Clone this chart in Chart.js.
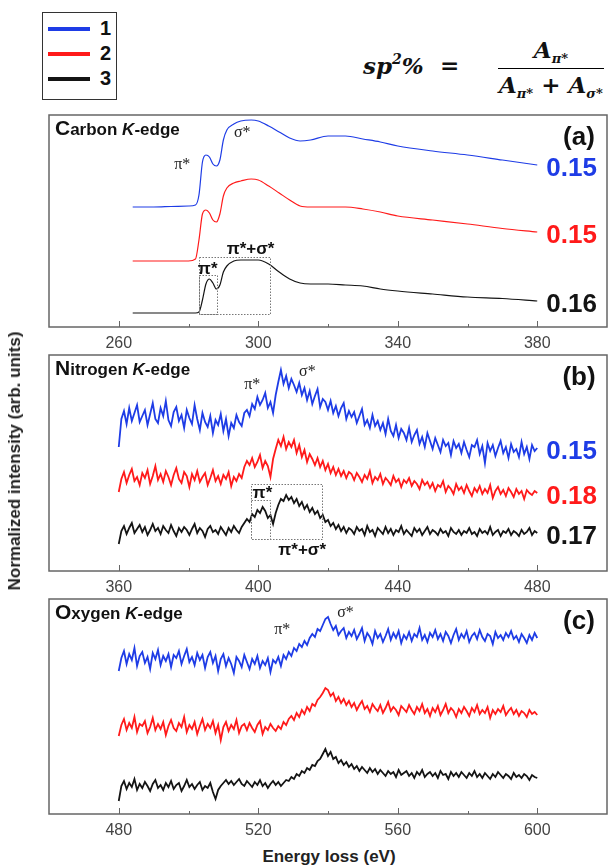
<!DOCTYPE html>
<html>
<head>
<meta charset="utf-8">
<script src="https://cdn.jsdelivr.net/npm/chart.js@4.4.0/dist/chart.umd.min.js"></script>
<style>
  body { margin: 0; background: #fff; width: 609px; height: 867px; position: relative; overflow: hidden;
         font-family: "Liberation Sans", Arial, sans-serif; color: #111; }
  canvas { position: absolute; left: 0; }
  #legend { position: absolute; left: 42px; top: 12px; width: 73px; height: 86px; border: 1.5px solid #333; }
  #legend .row { position: absolute; left: 0; height: 20px; width: 73px; }
  #legend .swatch { position: absolute; left: 5px; top: 8px; width: 42px; height: 4px; }
  #legend .name { position: absolute; left: 57px; top: -2px; font: bold 20px "Liberation Sans", Arial, sans-serif; }
  .math { position: absolute; font: italic bold 23px "DejaVu Serif", "Liberation Serif", serif; white-space: nowrap; }
  .math sup { font-size: 14px; vertical-align: 10px; }
  .math sub { font-size: 13px; vertical-align: -5px; }
  #lhs { left: 363px; top: 51px; }
  #eq { left: 440px; top: 51px; font-style: normal; }
  #frac { left: 498px; top: 36px; display: inline-flex; flex-direction: column; align-items: center; }
  #frac .num { padding-bottom: 2px; }
  #frac .den { border-top: 1.5px solid #000; padding: 2px 1px 0; }
  #ylab { position: absolute; left: 15px; top: 461px; transform: translate(-50%, -50%) rotate(-90deg);
          white-space: nowrap; font: bold 17px "Liberation Sans", Arial, sans-serif; color: #222; }
  #xlab { position: absolute; left: 329px; top: 857px; transform: translate(-50%, -50%);
          white-space: nowrap; font: bold 17px "Liberation Sans", Arial, sans-serif; color: #222; }
</style>
</head>
<body>
<div id="legend"></div>
<span id="lhs" class="math">sp<sup>2</sup>%</span>
<span id="eq" class="math">=</span>
<span id="frac" class="math">
  <span class="num">A<sub>π*</sub></span>
  <span class="den">A<sub>π*</sub> + A<sub>σ*</sub></span>
</span>
<canvas id="carbon" width="609" height="247" style="top:110px"></canvas>
<canvas id="nitrogen" width="609" height="251" style="top:350px"></canvas>
<canvas id="oxygen" width="609" height="250" style="top:594px"></canvas>
<div id="ylab">Normalized intensity (arb. units)</div>
<div id="xlab">Energy loss (eV)</div>

<script>
// sample names and colours
const sampleNames = ['1', '2', '3']
const sampleColors = ['#1e3ce6', '#ff1a1a', '#141414']

// C K-edge, smooth spectra (eV, intensity)
const carbonEnergy = [264, 270, 275, 280, 282, 283, 284, 285, 286, 287, 288, 289, 290, 291, 293, 295, 298, 300, 303, 306, 309, 312, 315, 320, 325, 330, 335, 340, 350, 360, 370, 380]
const carbon1 = [120, 120, 120.5, 121, 122, 132, 165, 172, 170, 163, 161, 167, 187, 197, 203, 206, 207, 206, 201, 195, 189, 186, 187, 191, 191, 188, 185, 181, 176, 172, 167, 162]
const carbon2 = [66, 66, 66, 66, 68, 87, 113, 117, 114, 107, 105, 113, 131, 139, 144, 146, 148, 147, 141, 134, 127, 121, 120, 120, 120, 118, 115, 111, 107, 103, 98.5, 95]
const carbon3 = [14, 14, 14, 14, 14, 15, 27, 43, 48, 44, 38, 42, 55, 61, 66, 67, 67, 67, 63, 55, 48, 44, 43, 43, 42, 41, 38, 36, 33, 30, 28.5, 26]
const carbonTicks = [260, 280, 300, 320, 340, 360, 380]
const carbonSp2 = ['0.15', '0.15', '0.16']

// N K-edge, 360-480 eV in 0.75 eV channels
const nitrogenStart = 360
const nitrogen1 = [
  124, 152, 160, 147, 163, 150, 158, 166, 149, 155,
  161, 146, 157, 168, 152, 148, 163, 155, 170, 151,
  145, 159, 164, 150, 156, 143, 161, 153, 147, 166,
  152, 141, 158, 149, 144, 155, 138, 151, 146, 157,
  140, 152, 135, 148, 143, 156, 149, 145, 158, 161,
  155, 167, 162, 174, 166, 171, 178, 163, 169, 158,
  176, 189, 201, 187, 195, 183, 192, 186, 179, 188,
  176, 183, 171, 180, 167, 175, 182, 164, 172, 169,
  161, 170, 158, 165, 155, 163, 168, 152, 160, 154,
  159, 148, 155, 162, 146, 151, 143, 156, 145, 150,
  141, 148, 137, 152, 140, 135, 146, 133, 142, 138,
  131, 143, 129, 136, 141, 127, 134, 124, 138, 130,
  122, 133, 126, 119, 131, 125, 128, 116, 130, 123,
  127, 118, 129, 121, 114, 126, 124, 131, 117, 125,
  108, 128, 120, 126, 115, 123, 130, 118, 124, 113,
  127, 119, 122, 114, 129, 117, 124, 112, 126, 120,
  123]
const nitrogen2 = [
  79, 92, 99, 88, 96, 102, 90, 94, 86, 98,
  93, 101, 87, 95, 105, 91, 97, 89, 100, 94,
  86, 96, 103, 92, 88, 99, 95, 84, 97, 91,
  100, 89, 94, 98, 86, 93, 101, 90, 95, 87,
  96, 92, 99, 85, 94, 90, 97, 93, 104, 110,
  106, 113, 104, 109, 116, 103, 110, 105, 94, 112,
  122, 131, 125, 134, 122, 129, 124, 131, 118, 126,
  114, 121, 109, 117, 112, 106, 113, 104, 110, 101,
  107, 98, 104, 96, 102, 95, 100, 93, 99, 97,
  91, 98, 94, 89, 96, 92, 100, 88, 94, 91,
  97, 87, 93, 90, 86, 95, 89, 92, 84, 91,
  88, 93, 85, 90, 87, 82, 91, 86, 89, 83,
  88, 80, 86, 84, 90, 79, 85, 82, 77, 87,
  81, 84, 78, 86, 80, 75, 83, 79, 85, 77,
  82, 78, 86, 73, 80, 84, 77, 81, 75, 83,
  79, 74, 82, 77, 80, 72, 81, 78, 76, 80,
  78]
const nitrogen3 = [
  27, 40, 45, 37, 43, 48, 38, 42, 46, 39,
  44, 36, 41, 47, 40, 43, 37, 45, 41, 38,
  46, 40, 35, 43, 39, 44, 41, 36, 42, 47,
  38, 43, 40, 34, 42, 45, 39, 41, 37, 44,
  40, 36, 43, 39, 45, 41, 38, 44, 48, 52,
  49, 57, 54, 61, 58, 64, 60, 53, 56, 47,
  58, 66, 72, 70, 76, 71, 74, 68, 72, 65,
  69, 62, 66, 59, 63, 57, 60, 53, 56, 49,
  51, 45, 48, 42, 46, 40, 44, 38, 43, 41,
  37, 44, 40, 42, 36, 45, 39, 41, 35, 43,
  40, 37, 44, 38, 42, 36, 41, 39, 45, 37,
  41, 38, 35, 43, 39, 42, 36, 40, 44, 37,
  41, 39, 36, 42, 38, 40, 35, 43, 39, 37,
  41, 36, 40, 38, 43, 37, 39, 35, 42, 38,
  40, 37, 44, 36, 39, 41, 35, 40, 38, 42,
  36, 40, 38, 35, 41, 37, 39, 43, 36, 40,
  38]
const nitrogenTicks = [360, 380, 400, 420, 440, 460, 480]
const nitrogenSp2 = ['0.15', '0.18', '0.17']

// O K-edge, 480-600 eV in 0.75 eV channels
const oxygenStart = 480
const oxygen1 = [
  143, 156, 163, 150, 160, 154, 166, 148, 158, 162,
  151, 157, 145, 161, 155, 164, 149, 158, 153, 160,
  147, 159, 156, 163, 150, 158, 165, 152, 157, 149,
  161, 154, 159, 146, 157, 162, 151, 158, 143, 155,
  160, 148, 156, 150, 141, 157, 153, 147, 159, 152,
  145, 155, 150, 158, 146, 153, 149, 156, 142, 154,
  151, 157, 148, 159, 155, 162, 158, 166, 163, 170,
  167, 173, 169, 176, 180, 177, 185, 183, 189, 195,
  197, 190, 184, 188, 179, 183, 186, 176, 182, 178,
  184, 175, 180, 186, 173, 181, 177, 170, 183, 176,
  180, 172, 178, 185, 174, 181, 176, 183, 171, 179,
  175, 182, 173, 180, 177, 186, 174, 179, 172, 181,
  177, 184, 175, 180, 173, 182, 178, 171, 179, 185,
  174, 180, 176, 183, 172, 178, 181, 175, 184, 177,
  173, 180, 178, 170, 182, 176, 179, 174, 181, 177,
  183, 175, 178, 172, 180, 176, 171, 179, 174, 181,
  176]
const oxygen2 = [
  78, 89, 95, 84, 91, 86, 97, 82, 90, 88,
  93, 81, 87, 96, 84, 90, 85, 92, 79, 88,
  94, 86, 83, 91, 87, 97, 82, 89, 85, 92,
  80, 88, 95, 84, 90, 86, 93, 81, 89, 74,
  87, 92, 83, 89, 85, 94, 81, 88, 90, 84,
  91, 86, 82, 89, 93, 80, 87, 84, 90, 86,
  83, 88, 85, 92, 89, 95, 98, 94, 101, 97,
  104, 100, 107, 103, 110, 108, 114, 117, 121, 126,
  124, 118, 121, 113, 117, 111, 115, 109, 113, 107,
  111, 104, 109, 113, 105, 108, 102, 110, 106, 103,
  109, 101, 106, 112, 103, 107, 104, 99, 108, 105,
  102, 109, 104, 100, 107, 103, 110, 101, 105, 98,
  106, 102, 108, 99, 104, 110, 101, 106, 103, 97,
  105, 101, 107, 103, 98, 106, 102, 109, 100, 104,
  101, 107, 96, 104, 100, 105, 102, 108, 99, 103,
  106, 100, 104, 98, 103, 101, 97, 104, 100, 102,
  99]
const oxygen3 = [
  13, 28, 33, 25, 31, 27, 35, 24, 30, 26,
  32, 28, 23, 30, 34, 26, 29, 24, 31, 27,
  33, 25, 29, 31, 23, 28, 34, 27, 30, 25,
  29, 32, 24, 28, 26, 31, 22, 15, 24, 28,
  31, 34, 30, 33, 29, 32, 35, 30, 28, 33,
  30, 27, 32, 29, 34, 28, 31, 26, 30, 33,
  29, 32, 28, 31, 34, 33, 37, 35, 40, 38,
  43, 41, 46, 44, 49, 48, 53, 55, 60, 65,
  58, 62, 55, 57, 51, 54, 49, 52, 47, 50,
  45, 48, 43, 47, 44, 41, 46, 42, 45, 40,
  44, 41, 38, 43, 40, 42, 37, 44, 39, 41,
  43, 38, 41, 36, 42, 39, 44, 37, 40, 42,
  38, 41, 36, 43, 39, 40, 35, 42, 38, 41,
  37, 42, 39, 36, 41, 38, 43, 37, 40, 36,
  41, 38, 35, 40, 37, 42, 39, 36, 40, 38,
  35, 41, 37, 39, 36, 40, 38, 34, 39, 37,
  36]
const oxygenTicks = [480, 500, 520, 540, 560, 580, 600]

const channelWidth = 0.75
const sansFont = '"Liberation Sans", Arial, sans-serif'
const serifFont = '"Liberation Serif", "DejaVu Serif", serif'

// legend box
const legend = document.querySelector('#legend')
sampleNames.forEach((name, i) => {
  legend.innerHTML += `<div class="row" style="top:${6 + i * 25}px">
    <span class="swatch" style="background:${sampleColors[i]}"></span><span class="name">${name}</span></div>`
})

const channels = (start, values) => values.map((v, i) => ({ x: start + i * channelWidth, y: v }))
const pairs = (xs, values) => values.map((v, i) => ({ x: xs[i], y: v }))

// frame, inward ticks, titles, peak labels, dotted windows, sp2 values
const decor = {
  id: 'decor',
  afterDatasetsDraw(chart) {
    const p = chart.options.plugins.decor
    const { ctx, chartArea: a } = chart
    const x = chart.scales.x, y = chart.scales.y
    ctx.save()

    ctx.strokeStyle = '#777'
    ctx.lineWidth = 1
    ctx.setLineDash([1.5, 1.5])
    ;(p.windows || []).forEach(w => {
      const l = Math.round(x.getPixelForValue(w[0])) + 0.5, r = Math.round(x.getPixelForValue(w[1])) + 0.5
      const b = Math.round(y.getPixelForValue(w[2])) + 0.5, t = Math.round(y.getPixelForValue(w[3])) + 0.5
      ctx.strokeRect(l, t, r - l, b - t)
    })
    ctx.setLineDash([])

    ctx.strokeStyle = '#666'
    ctx.lineWidth = 1.5
    ctx.strokeRect(a.left, a.top, a.right - a.left, a.bottom - a.top)
    ctx.lineWidth = 1
    x.ticks.forEach(t => {
      const px = Math.round(x.getPixelForValue(t.value)) + 0.5
      ctx.beginPath()
      ctx.moveTo(px, a.bottom)
      ctx.lineTo(px, a.bottom - (t.label ? 6 : 3))
      ctx.stroke()
    })

    // panel title, e.g. "Carbon K-edge"
    ctx.fillStyle = '#111'
    ctx.textAlign = 'left'
    ctx.textBaseline = 'alphabetic'
    let tx = a.left + 6
    const ty = a.top + 20
    const parts = [
      [p.element[0], 'bold 21px ' + sansFont],
      [p.element.slice(1) + ' ', 'bold 17px ' + sansFont],
      ['K', 'italic bold 17px ' + sansFont],
      ['-edge', 'bold 17px ' + sansFont]
    ]
    parts.forEach(([s, f]) => {
      ctx.font = f
      ctx.fillText(s, tx, ty)
      tx += ctx.measureText(s).width
    })

    ctx.textAlign = 'center'
    ctx.textBaseline = 'middle'
    ctx.font = 'bold 26px ' + sansFont
    ctx.fillText(p.tag, a.right - 28, a.top + 23)

    p.notes.forEach(n => {
      ctx.font = n.bold ? 'bold 17px ' + sansFont : '16px ' + serifFont
      ctx.fillStyle = n.bold ? '#111' : '#222'
      ctx.fillText(n.text, x.getPixelForValue(n.x), y.getPixelForValue(n.y))
    })

    // sp2 fraction next to the end of each spectrum
    ctx.textAlign = 'left'
    ctx.font = 'bold 26px ' + sansFont
    ;(p.sp2 || []).forEach((s, i) => {
      const pts = chart.getDatasetMeta(i).data
      const last = pts[pts.length - 1]
      ctx.fillStyle = sampleColors[i]
      ctx.fillText(s, last.x + 9, last.y + 4)
    })
    ctx.restore()
  }
}

function drawPanel(id, height, range, ticks, series, width, decorOpts) {
  new Chart(document.getElementById(id), {
    type: 'line',
    data: {
      datasets: series.map((d, i) => ({
        label: sampleNames[i],
        data: d,
        borderColor: sampleColors[i],
        borderWidth: width,
        pointRadius: 0,
        fill: false,
        cubicInterpolationMode: width < 1.5 ? 'monotone' : 'default',
        tension: 0
      }))
    },
    options: {
      responsive: false,
      animation: false,
      events: [],
      layout: { padding: { left: 49, right: 2, top: 5, bottom: 0 } },
      plugins: { legend: { display: false }, tooltip: { enabled: false }, decor: decorOpts },
      scales: {
        x: {
          type: 'linear',
          min: range[0],
          max: range[1],
          afterBuildTicks: s => { s.ticks = ticks.map(v => ({ value: v })) },
          afterFit: s => { s.height = 30 },
          grid: { display: false },
          border: { display: false },
          ticks: {
            autoSkip: false,
            maxRotation: 0,
            padding: -1,
            color: '#444',
            font: { family: sansFont, size: 16 },
            callback: v => ((v - ticks[0]) % 40 === 0 ? v : '')
          }
        },
        y: { display: false, min: 0, max: height }
      }
    },
    plugins: [decor]
  })
}

drawPanel('carbon', 212, [240, 400], carbonTicks,
  [pairs(carbonEnergy, carbon1), pairs(carbonEnergy, carbon2), pairs(carbonEnergy, carbon3)], 1.2, {
    element: 'Carbon', tag: '(a)', sp2: carbonSp2,
    windows: [[282.9, 288.2, 13, 52], [282.9, 303.3, 13, 70]],
    notes: [
      { text: 'π*', x: 278.2, y: 162 },
      { text: 'σ*', x: 295.4, y: 194 },
      { text: 'π*+σ*', x: 297.8, y: 78, bold: true },
      { text: 'π*', x: 285.5, y: 58, bold: true }
    ]
  })

drawPanel('nitrogen', 216, [340, 500], nitrogenTicks,
  [channels(nitrogenStart, nitrogen1), channels(nitrogenStart, nitrogen2), channels(nitrogenStart, nitrogen3)], 1.8, {
    element: 'Nitrogen', tag: '(b)', sp2: nitrogenSp2,
    windows: [[398, 403.5, 32, 71], [398, 418.3, 32, 87]],
    notes: [
      { text: 'π*', x: 398.3, y: 186 },
      { text: 'σ*', x: 414.1, y: 199 },
      { text: 'π*', x: 401.2, y: 78, bold: true },
      { text: 'π*+σ*', x: 412.6, y: 21, bold: true }
    ]
  })

drawPanel('oxygen', 215, [460, 620], oxygenTicks,
  [channels(oxygenStart, oxygen1), channels(oxygenStart, oxygen2), channels(oxygenStart, oxygen3)], 1.8, {
    element: 'Oxygen', tag: '(c)',
    notes: [
      { text: 'π*', x: 526.9, y: 184 },
      { text: 'σ*', x: 545, y: 201 }
    ]
  })
</script>
</body>
</html>
